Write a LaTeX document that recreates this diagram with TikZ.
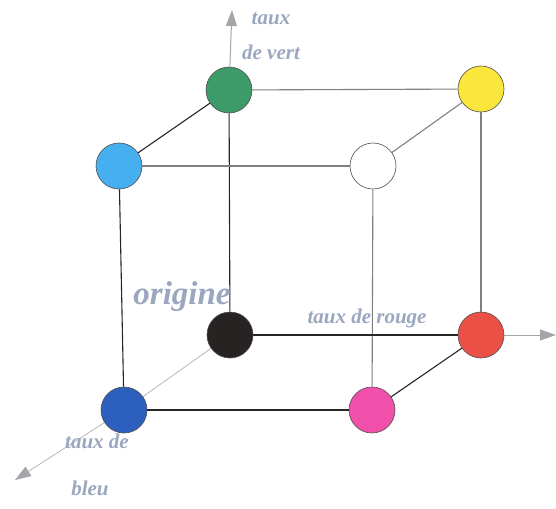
\documentclass[tikz,border=0pt]{standalone}
\usepackage{fontspec}
\setmainfont{Liberation Serif}
\usetikzlibrary{arrows.meta}
\definecolor{labelc}{RGB}{155,167,190}
\definecolor{axisc}{RGB}{165,165,170}
\definecolor{cgreen}{RGB}{60,155,105}
\definecolor{cyellow}{RGB}{250,230,60}
\definecolor{ccyan}{RGB}{70,175,240}
\definecolor{cblack}{RGB}{40,35,35}
\definecolor{cred}{RGB}{235,80,70}
\definecolor{cblue}{RGB}{45,95,190}
\definecolor{cpink}{RGB}{240,80,170}
\begin{document}
\begin{tikzpicture}[x=1pt,y=-1pt,
  vertex/.style={circle,draw=black!70,line width=0.6pt,minimum size=46pt,inner sep=0pt},
  darkedge/.style={draw=black!85,line width=1.1pt},
  grayedge/.style={draw=black!50,line width=1.1pt},
  axis/.style={draw=axisc,line width=1pt,-{Triangle[length=16pt,width=11pt]}},
  lbl/.style={text=labelc,inner sep=0pt},
  small/.style={font=\bfseries\itshape\fontsize{21}{21}\selectfont},
  big/.style={font=\bfseries\itshape\fontsize{33}{33}\selectfont}]
\useasboundingbox (0,0) rectangle (556,508);
% axis end points
\coordinate (vtop) at (232,10);
\coordinate (rend) at (556,335);
\coordinate (bend) at (15,480);
% corners of the colour cube
\node[vertex,fill=cgreen]  (g) at (229,90) {};
\node[vertex,fill=cyellow] (y) at (481,89) {};
\node[vertex,fill=ccyan]   (c) at (119,166) {};
\node[vertex,fill=white]   (w) at (373,166) {};
\node[vertex,fill=cblack]  (k) at (230,335) {};
\node[vertex,fill=cred]    (r) at (481,335) {};
\node[vertex,fill=cblue]   (b) at (124,410) {};
\node[vertex,fill=cpink]   (p) at (372,410) {};
% axes
\draw[axis] (g) -- (vtop);
\draw[axis] (r) -- (rend);
\draw[axis,line width=0.6pt] (b) -- (bend);
\draw[draw=axisc,line width=0.6pt] (k) -- (b);
% edges
\draw[grayedge] (g) -- (y);
\draw[darkedge] (g) -- (c);
\draw[darkedge] (g) -- (k);
\draw[grayedge] (c) -- (w);
\draw[darkedge] (c) -- (b);
\draw[grayedge] (w) -- (y);
\draw[grayedge] (w) -- (p);
\draw[grayedge] (y) -- (r);
\draw[darkedge] (k) -- (r);
\draw[darkedge] (b) -- (p);
\draw[darkedge] (p) -- (r);
% labels
\node[lbl,small] (tv1) at (271,19) {taux};
\node[lbl,small] (tv2) at (271,52) {de vert};
\node[lbl,big]   (orig) at (182,297) {origine};
\node[lbl,small] (tr) at (367,318) {taux de rouge};
\node[lbl,small] (tb1) at (97,441) {taux de};
\node[lbl,small] (tb2) at (90,488) {bleu};
\end{tikzpicture}
\end{document}
